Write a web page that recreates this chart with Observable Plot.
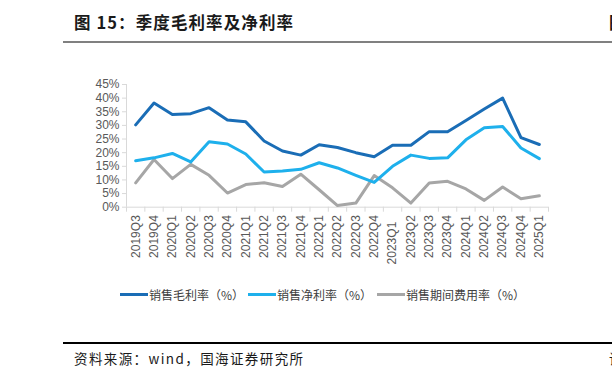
<!DOCTYPE html>
<html><head><meta charset="utf-8">
<script src="https://cdn.jsdelivr.net/npm/d3@7"></script>
<script src="https://cdn.jsdelivr.net/npm/@observablehq/plot@0.6"></script>
<style>
body{margin:0;width:612px;height:382px;overflow:hidden;position:relative;background:#fff;font-family:"Noto Sans CJK SC","Noto Sans",sans-serif;}
#title{position:absolute;left:74px;top:10px;font-size:16.5px;font-weight:bold;color:#1a1a1a;letter-spacing:1.1px;white-space:nowrap;}
#tcut{position:absolute;left:609px;top:10px;font-size:16.5px;font-weight:bold;color:#1a1a1a;}
#tline{position:absolute;left:63px;top:41px;width:560px;height:2px;background:#808080;}
#chart{position:absolute;left:0;top:70px;}
#legend .item{position:absolute;top:286px;height:16px;display:flex;align-items:center;white-space:nowrap;font-size:12px;color:#404040;}
#legend .sw{width:28px;height:3px;margin-right:1px;}
#fline{position:absolute;left:63px;top:342px;width:560px;height:1.5px;background:#000;}
#source{position:absolute;left:74px;top:348px;font-size:13.5px;color:#1a1a1a;letter-spacing:1.4px;white-space:nowrap;}
#scut{position:absolute;left:609px;top:348px;font-size:13.5px;color:#1a1a1a;}
</style></head><body>
<div id="title">图 15：季度毛利率及净利率</div>
<div id="tcut">图</div>
<div id="tline"></div>
<div id="chart"></div>
<div id="legend"></div>
<div id="fline"></div>
<div id="source">资料来源：wind，国海证券研究所</div>
<div id="scut">请</div>
<script>
const quarters = ["2019Q3","2019Q4","2020Q1","2020Q2","2020Q3","2020Q4","2021Q1","2021Q2","2021Q3","2021Q4","2022Q1","2022Q2","2022Q3","2022Q4","2023Q1","2023Q2","2023Q3","2023Q4","2024Q1","2024Q2","2024Q3","2024Q4","2025Q1"];
const gross   = [30.2,38.2,34.0,34.3,36.5,32.0,31.3,24.3,20.6,19.1,22.9,21.9,20.0,18.5,22.7,22.7,27.7,27.7,31.8,36.0,40.0,25.5,23.0];
const net     = [17.0,18.1,19.7,16.6,24.0,23.2,19.5,12.9,13.3,13.9,16.3,14.4,11.7,9.1,15.0,19.1,17.9,18.1,24.7,29.1,29.6,21.7,17.8];
const expense = [8.9,17.5,10.5,15.7,11.7,5.2,8.3,9.0,7.6,12.1,6.4,0.6,1.5,11.6,7.1,1.5,8.9,9.5,6.7,2.5,7.4,3.1,4.2];
const yTicks = [0,5,10,15,20,25,30,35,40,45];
const seriesNames = ["销售毛利率（%）","销售净利率（%）","销售期间费用率（%）"];
const seriesColors = ["#1a6db6","#1eb0ec","#a6a6a6"];
const seriesData = [gross, net, expense];
const legendLeft = [120, 248, 377];

const idx = quarters.map((q,i)=>i);
const boundaries = d3.range(quarters.length + 1).map(i => i - 0.5);
const shifted = [14];
const tickFont = "'Liberation Sans', Arial, sans-serif";

const chart = Plot.plot({
  width: 612, height: 200,
  marginLeft: 126, marginRight: 64, marginTop: 14, marginBottom: 63.3,
  x: {domain: [-0.5, quarters.length - 0.5], axis: null},
  y: {domain: [0, 45], axis: null},
  style: {fontFamily: tickFont, background: "transparent"},
  marks: [
    Plot.ruleY([0], {stroke: "#d9d9d9", strokeWidth: 1}),
    Plot.ruleX([-0.5], {stroke: "#d9d9d9", strokeWidth: 1}),
    Plot.axisY({ticks: yTicks, tickFormat: d => d + "%", tickSize: 4, tickPadding: 3, stroke: "#d9d9d9", fill: "#595959", fontSize: 12, anchor: "left"}),
    Plot.axisX({ticks: boundaries, tickFormat: () => "", tickSize: 5, stroke: "#d9d9d9", anchor: "bottom"}),
    Plot.axisX({ticks: idx.filter(i => !shifted.includes(i)), tickFormat: i => quarters[i], tickRotate: -90, tickSize: 0, tickPadding: 8, fill: "#595959", fontSize: 12, anchor: "bottom"}),
    Plot.axisX({ticks: shifted, tickFormat: i => quarters[i], tickRotate: -90, tickSize: 0, tickPadding: 14.5, fill: "#595959", fontSize: 12, anchor: "bottom"}),
    ...seriesData.map((s, k) => Plot.lineY(s, {x: (d, i) => i, y: d => d, stroke: seriesColors[k], strokeWidth: 3, strokeLinejoin: "round"})).reverse()
  ]
});
document.getElementById("chart").appendChild(chart);

const legend = document.getElementById("legend");
seriesNames.forEach((n, k) => {
  const it = document.createElement("div");
  it.className = "item";
  it.style.left = legendLeft[k] + "px";
  it.innerHTML = `<span class="sw" style="background:${seriesColors[k]}"></span><span>${n}</span>`;
  legend.appendChild(it);
});
</script>
</body></html>
